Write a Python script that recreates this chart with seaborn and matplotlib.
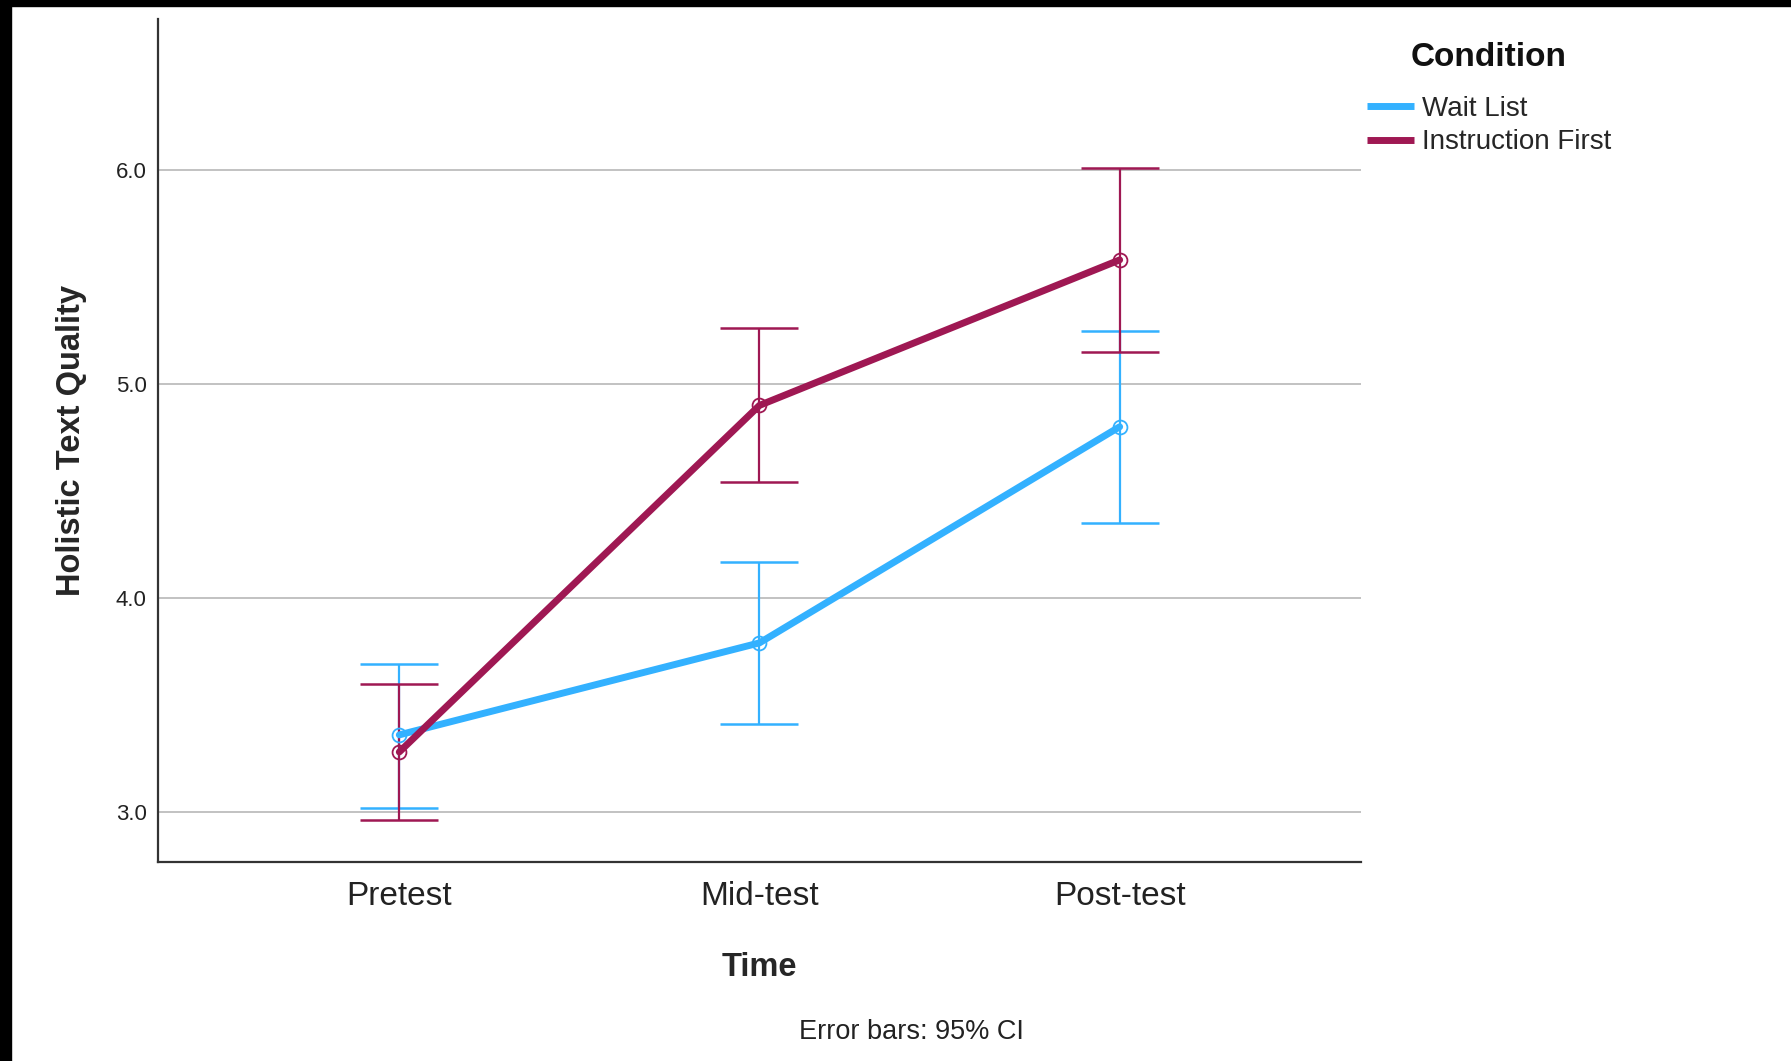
import matplotlib
matplotlib.use("Agg")
import matplotlib.pyplot as plt
from matplotlib.patches import Rectangle
import seaborn as sns
import pandas as pd
import numpy as np

# values
times = ["Pretest", "Mid-test", "Post-test"]
conditions = ["Wait List", "Instruction First"]
wait_mean = [3.36, 3.79, 4.80]
wait_low = [3.02, 3.41, 4.35]
wait_high = [3.69, 4.17, 5.25]
instr_mean = [3.28, 4.90, 5.58]
instr_low = [2.96, 4.54, 5.15]
instr_high = [3.60, 5.26, 6.01]
colors = ["#33B1FF", "#9F1853"]

pos = np.arange(len(times))
df = pd.DataFrame({
    "pos": np.concatenate([pos, pos]),
    "Mean": wait_mean + instr_mean,
    "Condition": [conditions[0]] * 3 + [conditions[1]] * 3,
})

sns.set_theme(style="white")
plt.rcParams["font.family"] = ["Liberation Sans", "DejaVu Sans"]

fig = plt.figure(figsize=(17.91, 10.61), dpi=100)
ax = fig.add_axes([0.0882, 0.1876, 0.6717, 0.7945])

# error bars first, lines over them
for mean, low, high, c in [(wait_mean, wait_low, wait_high, colors[0]),
                           (instr_mean, instr_low, instr_high, colors[1])]:
    mean = np.array(mean)
    yerr = [mean - np.array(low), np.array(high) - mean]
    ax.errorbar(pos, mean, yerr=yerr, fmt="none", ecolor=c, elinewidth=1.6,
                capsize=28, capthick=1.8, zorder=2)

sns.lineplot(data=df, x="pos", y="Mean", hue="Condition", hue_order=conditions,
             palette=colors, lw=5, ax=ax, zorder=3)

for mean, c in [(wait_mean, colors[0]), (instr_mean, colors[1])]:
    ax.plot(pos, mean, "o", ms=10, mfc="none", mec=c, mew=1.3, zorder=4)

ax.set_xlim(-0.67, 2.67)
ax.set_ylim(2.766, 6.706)
ax.set_xticks(pos)
ax.set_xticklabels(times)
ax.set_yticks([3, 4, 5, 6])
ax.set_yticklabels(["3.0", "4.0", "5.0", "6.0"])
ax.tick_params(axis="x", length=0, pad=14, labelsize=24, colors="#222222")
ax.tick_params(axis="y", length=0, pad=8, labelsize=16, colors="#222222")
ax.yaxis.grid(True, color="#bdbdbd", lw=1.3)
ax.set_axisbelow(True)

for side in ["top", "right"]:
    ax.spines[side].set_visible(False)
for side in ["left", "bottom"]:
    ax.spines[side].set_color("#333333")
    ax.spines[side].set_linewidth(1.6)

ax.set_xlabel("Time", fontsize=23.5, fontweight="bold", va="center")
ax.set_ylabel("Holistic Text Quality", fontsize=23.5, fontweight="bold", va="center")
ax.xaxis.set_label_coords(0.5, -0.1253)
ax.yaxis.set_label_coords(-0.0715, 0.5)

handles, labels = ax.get_legend_handles_labels()
ax.get_legend().remove()
leg = fig.legend(handles, labels, loc="center left",
                 bbox_to_anchor=(0.763, 0.8818), frameon=False, fontsize=20,
                 handlelength=1.7, handletextpad=0.3, labelspacing=0.28,
                 borderpad=0, borderaxespad=0)
for h in leg.legend_handles:
    h.set_solid_capstyle("butt")
fig.text(0.831, 0.946, "Condition", ha="center", va="center",
         fontsize=24, fontweight="bold", color="#111111")

fig.text(0.509, 0.027, "Error bars: 95% CI", ha="center", va="center",
         fontsize=19.5, color="#222222")

# black border strips at top and left of the screenshot
fig.add_artist(Rectangle((0, 1 - 6 / 1061), 1, 6 / 1061, transform=fig.transFigure,
                         color="black", zorder=10))
fig.add_artist(Rectangle((0, 0), 11 / 1791, 1, transform=fig.transFigure,
                         color="black", zorder=10))

fig.savefig("out.png", dpi=100)
